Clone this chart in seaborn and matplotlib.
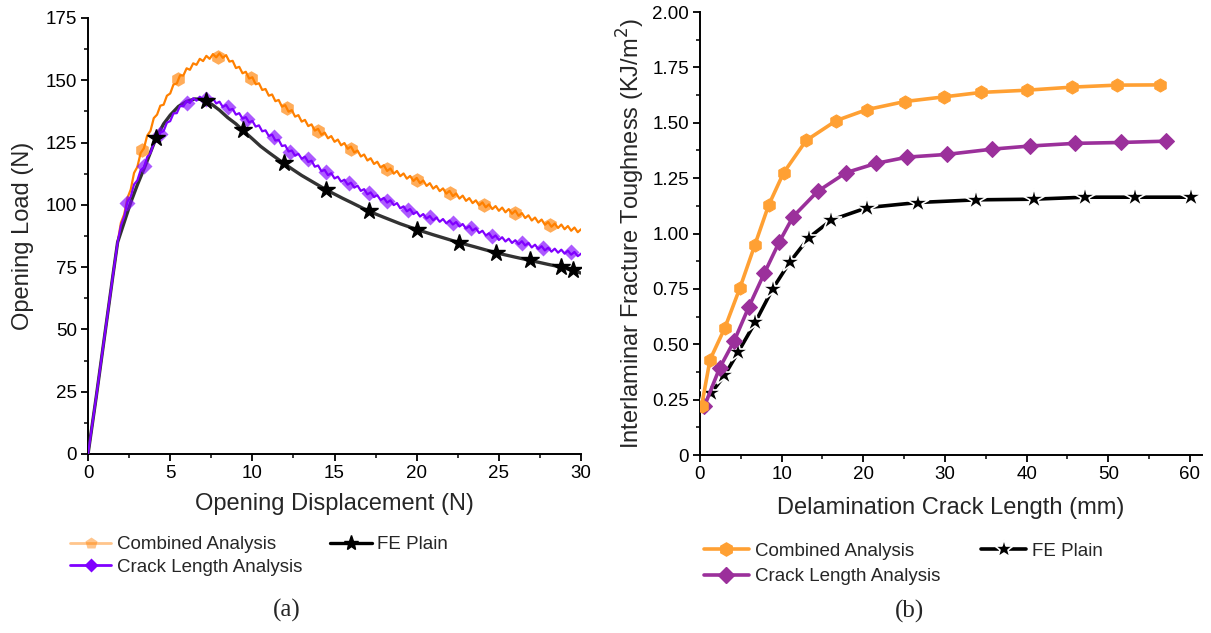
import numpy as np
import pandas as pd
import matplotlib
matplotlib.use("Agg")
import matplotlib.pyplot as plt
from matplotlib.lines import Line2D
from matplotlib.ticker import MultipleLocator
import seaborn as sns

# ---------------- (a) load-displacement data ----------------
# common linear loading branch
ramp_x = [0.0, 0.5, 1.0, 1.5, 1.8]
ramp_y = [0.0, 23.0, 47.0, 71.0, 85.0]

# Combined Analysis: sampled every 0.2 from 2.0 to 30.0
comb_x = [round(2.0 + 0.2 * i, 1) for i in range(141)]
comb_y = [
    92.8, 96.2, 102.8, 106.2, 112.8, 115.2, 120.8, 122.7, 127.8, 129.7,
    134.8, 136.2, 139.8, 140.2, 143.8, 144.7, 148.3, 148.7, 152.0, 151.9,
    154.8, 154.2, 156.8, 156.2, 158.6, 157.7, 159.8, 158.6, 160.5, 159.2,
    160.8, 159.0, 160.1, 157.5, 157.8, 154.9, 155.4, 152.8, 153.4, 150.7,
    151.2, 148.4, 148.8, 146.1, 146.5, 143.8, 144.3, 141.6, 142.1, 139.4,
    140.0, 137.4, 138.0, 135.4, 136.0, 133.4, 134.1, 131.6, 132.3, 129.8,
    130.5, 128.1, 129.0, 126.7, 127.6, 125.3, 126.2, 123.9, 124.8, 122.5,
    123.4, 121.0, 121.8, 119.4, 120.2, 117.8, 118.7, 116.4, 117.3, 115.0,
    115.9, 113.6, 114.6, 112.5, 113.6, 111.5, 112.6, 110.5, 111.6, 109.6,
    110.8, 108.7, 109.8, 107.6, 108.7, 106.5, 107.6, 105.5, 106.6, 104.5,
    105.6, 103.5, 104.6, 102.5, 103.7, 101.6, 102.7, 100.7, 101.8, 99.8,
    101.0, 99.0, 100.2, 98.3, 99.5, 97.6, 98.9, 97.0, 98.3, 96.4,
    97.7, 95.6, 96.7, 94.7, 95.8, 93.7, 94.9, 92.9, 94.1, 92.0,
    93.1, 91.2, 92.5, 90.7, 92.1, 90.2, 91.5, 89.6, 90.9, 89.0,
    90.2,
]
comb_mx = [3.3, 5.5, 7.9, 9.9, 12.1, 14.0, 16.0, 18.2, 20.0, 22.0, 24.1, 26.0, 28.1]
comb_my = [122.2, 150.7, 159.5, 150.9, 138.7, 129.7, 122.6, 114.4, 110.0, 104.8, 100.0, 96.9, 92.1]

# Crack Length Analysis: sampled every 0.2 from 2.0 to 30.0
crack_x = [round(2.0 + 0.2 * i, 1) for i in range(141)]
crack_y = [
    91.7, 95.3, 101.3, 103.3, 108.2, 109.8, 113.9, 115.0, 119.2, 120.8,
    124.7, 125.6, 129.0, 129.6, 133.0, 133.6, 136.7, 136.8, 139.7, 139.5,
    141.7, 140.9, 142.8, 141.8, 143.4, 142.1, 143.4, 141.7, 142.7, 140.7,
    141.4, 139.3, 140.1, 138.1, 138.5, 136.2, 136.8, 134.6, 135.2, 133.1,
    133.7, 131.4, 131.9, 129.5, 129.9, 127.6, 128.2, 125.8, 126.1, 123.6,
    123.9, 121.4, 121.8, 119.7, 120.5, 118.5, 119.3, 117.2, 117.7, 115.3,
    115.8, 113.5, 114.0, 111.9, 112.7, 110.6, 111.3, 109.3, 110.1, 108.1,
    108.9, 106.9, 107.7, 105.6, 106.3, 104.2, 105.0, 103.1, 103.9, 101.9,
    102.8, 100.9, 101.8, 99.9, 100.7, 98.6, 99.4, 97.4, 98.3, 96.3,
    97.2, 95.3, 96.3, 94.5, 95.5, 93.8, 94.9, 93.2, 94.3, 92.6,
    93.7, 92.1, 93.1, 91.3, 92.3, 90.5, 91.5, 89.7, 90.6, 88.7,
    89.6, 87.7, 88.6, 86.7, 87.7, 85.9, 87.0, 85.3, 86.4, 84.7,
    85.8, 84.2, 85.4, 83.7, 84.7, 82.9, 84.0, 82.3, 83.4, 81.7,
    82.8, 81.2, 82.4, 80.8, 82.0, 80.4, 81.6, 80.0, 81.1, 79.4,
    80.4,
]
crack_mx = [2.4, 3.4, 4.4, 6.0, 7.2, 8.5, 9.7, 11.3, 12.3, 13.4, 14.5, 15.9, 17.1,
            18.2, 19.5, 20.8, 22.2, 23.3, 24.6, 26.4, 27.7, 29.4]
crack_my = [100.6, 115.7, 128.3, 141.0, 142.6, 139.3, 134.3, 127.3, 121.4, 118.3, 113.0,
            108.6, 104.6, 101.7, 98.0, 95.0, 92.9, 90.6, 87.4, 84.8, 82.8, 81.0]

# FE Plain
fe_x = [2.2, 2.6, 3.0, 3.5, 4.15, 4.6, 5.0, 5.5, 6.0, 6.5, 7.0, 7.2, 7.6, 8.0, 8.5,
        9.0, 9.4, 10.0, 10.5, 11.0, 11.9, 12.5, 13.0, 14.5, 15.5, 16.0, 17.1, 18.0,
        19.0, 20.0, 21.0, 22.0, 22.6, 23.5, 24.8, 26.0, 26.9, 28.0, 28.8, 29.5, 30.0]
fe_y = [93.0, 101.0, 108.0, 116.0, 127.0, 132.5, 136.0, 139.5, 141.5, 142.5, 142.3,
        141.7, 140.0, 138.0, 135.0, 132.5, 130.0, 126.5, 123.5, 121.0, 116.7, 114.0,
        111.8, 106.0, 102.6, 101.0, 97.4, 95.0, 92.4, 90.1, 88.0, 86.0, 84.8, 83.2,
        80.8, 79.0, 77.7, 76.1, 75.0, 73.7, 72.6]
fe_mx = [4.15, 7.2, 9.4, 11.9, 14.5, 17.1, 20.0, 22.6, 24.8, 26.9, 28.8, 29.5]
fe_my = [127.0, 141.7, 130.0, 116.7, 106.0, 97.4, 90.1, 84.8, 80.8, 77.7, 75.0, 73.7]

# ---------------- (b) fracture toughness data ----------------
b_comb_x = [0.2, 1.23, 3.06, 4.9, 6.7, 8.4, 10.24, 13.0, 16.7, 20.4, 25.1, 29.9, 34.4,
            40.0, 45.6, 51.1, 56.3]
b_comb_y = [0.221, 0.43, 0.575, 0.755, 0.946, 1.127, 1.274, 1.42, 1.51, 1.559, 1.596,
            1.617, 1.637, 1.647, 1.661, 1.67, 1.671]
b_crack_x = [0.55, 2.4, 4.2, 6.0, 7.9, 9.7, 11.4, 14.4, 17.9, 21.6, 25.4, 30.2, 35.8,
             40.4, 45.9, 51.5, 57.1]
b_crack_y = [0.221, 0.392, 0.516, 0.67, 0.822, 0.961, 1.076, 1.19, 1.275, 1.317, 1.345,
             1.357, 1.381, 1.395, 1.407, 1.411, 1.417]
b_fe_x = [0.2, 1.37, 3.0, 4.7, 6.8, 8.9, 11.0, 13.35, 16.1, 20.5, 26.7, 33.8, 40.9,
          47.1, 53.3, 60.1]
b_fe_y = [0.22, 0.28, 0.359, 0.466, 0.601, 0.75, 0.871, 0.982, 1.061, 1.117, 1.14,
          1.152, 1.155, 1.164, 1.164, 1.164]

labels = ["Combined Analysis", "Crack Length Analysis", "FE Plain"]

sns.set_theme(style="ticks")
plt.rcParams["font.family"] = ["Liberation Sans", "DejaVu Sans"]
plt.rcParams["axes.linewidth"] = 1.4
for ax_name in ("xtick", "ytick"):
    plt.rcParams[f"{ax_name}.major.width"] = 1.3
    plt.rcParams[f"{ax_name}.minor.width"] = 1.1
    plt.rcParams[f"{ax_name}.major.size"] = 5
    plt.rcParams[f"{ax_name}.minor.size"] = 3
    plt.rcParams[f"{ax_name}.direction"] = "out"
    plt.rcParams[f"{ax_name}.color"] = "black"
    plt.rcParams[f"{ax_name}.labelcolor"] = "black"

fig = plt.figure(figsize=(12.11, 6.33), dpi=100)
ax1 = fig.add_axes([0.0727, 0.2828, 0.4071, 0.6888])
ax2 = fig.add_axes([0.578, 0.2812, 0.4147, 0.6998])

C_OR_A = "#FF8000"
C_PU_A = "#8000FF"
C_FE_A = "#333333"

df_comb = pd.DataFrame({"x": ramp_x + comb_x, "y": ramp_y + comb_y})
df_crack = pd.DataFrame({"x": ramp_x + crack_x, "y": ramp_y + crack_y})
df_fe = pd.DataFrame({"x": ramp_x + fe_x, "y": ramp_y + fe_y})

sns.lineplot(data=df_fe, x="x", y="y", ax=ax1, color=C_FE_A, lw=2.4, sort=False,
             estimator=None, zorder=3)
sns.lineplot(data=df_comb, x="x", y="y", ax=ax1, color=C_OR_A, lw=1.6, sort=False,
             estimator=None, zorder=2)
sns.lineplot(data=df_crack, x="x", y="y", ax=ax1, color=C_PU_A, lw=1.6, sort=False,
             estimator=None, zorder=4)
ax1.plot(comb_mx, comb_my, ls="none", marker="h", ms=10.5, color=C_OR_A, alpha=0.65,
         mec="none", zorder=5)
ax1.plot(crack_mx, crack_my, ls="none", marker="D", ms=8.5, color=C_PU_A, alpha=0.65,
         mec="none", zorder=5)
ax1.plot(fe_mx, fe_my, ls="none", marker="*", ms=13, color="black", mec="black",
         zorder=6)

ax1.set_xlim(0, 30)
ax1.set_ylim(0, 175)
ax1.xaxis.set_major_locator(MultipleLocator(5))
ax1.xaxis.set_minor_locator(MultipleLocator(2.5))
ax1.yaxis.set_major_locator(MultipleLocator(25))
ax1.yaxis.set_minor_locator(MultipleLocator(12.5))
ax1.set_xlabel("Opening Displacement (N)", fontsize=17, labelpad=8)
ax1.set_ylabel("Opening Load (N)", fontsize=17, labelpad=8)

# ---------------- (b) ----------------
C_OR_B = "#FFA033"
C_PU_B = "#9B309B"

sns.lineplot(x=b_fe_x, y=b_fe_y, ax=ax2, color="black", lw=2.6, sort=False,
             estimator=None, marker="*", markersize=16, mec="white", mew=1.2, zorder=3)
sns.lineplot(x=b_crack_x, y=b_crack_y, ax=ax2, color=C_PU_B, lw=2.6, sort=False,
             estimator=None, marker="D", markersize=8.5, mec=C_PU_B, zorder=4)
sns.lineplot(x=b_comb_x, y=b_comb_y, ax=ax2, color=C_OR_B, lw=2.6, sort=False,
             estimator=None, marker="h", markersize=9.5, mec=C_OR_B, zorder=5)

ax2.set_xlim(0, 61.5)
ax2.set_ylim(0, 2.0)
ax2.xaxis.set_major_locator(MultipleLocator(10))
ax2.xaxis.set_minor_locator(MultipleLocator(5))
ax2.yaxis.set_minor_locator(MultipleLocator(0.125))
ax2.set_yticks([0, 0.25, 0.5, 0.75, 1.0, 1.25, 1.5, 1.75, 2.0])
ax2.set_yticklabels(["0", "0.25", "0.50", "0.75", "1.00", "1.25", "1.50", "1.75", "2.00"])
ax2.set_xlabel("Delamination Crack Length (mm)", fontsize=17, labelpad=10)
ax2.set_ylabel("Interlaminar Fracture Toughness (KJ/m$^2$)", fontsize=17, labelpad=4)

for ax in (ax1, ax2):
    sns.despine(ax=ax)
    ax.tick_params(axis="both", which="major", labelsize=13.5, pad=3)
    ax.spines["left"].set_color("black")
    ax.spines["bottom"].set_color("black")

# legends
h_a = [
    Line2D([], [], color=C_OR_A, alpha=0.45, lw=2, marker="p", ms=9, mec="none"),
    Line2D([], [], color=C_PU_A, lw=2, marker="D", ms=7, mec="none"),
    Line2D([], [], color="black", lw=2.4, marker="*", ms=11),
]
fig.legend(h_a, labels, ncol=2, loc="upper left", bbox_to_anchor=(0.0578, 0.153),
           frameon=False, fontsize=13.5, handlelength=2.2, handletextpad=0.3,
           columnspacing=1.5, labelspacing=0.3, borderpad=0, borderaxespad=0)

h_b = [
    Line2D([], [], color=C_OR_B, lw=2.6, marker="h", ms=9.5),
    Line2D([], [], color=C_PU_B, lw=2.6, marker="D", ms=8),
    Line2D([], [], color="black", lw=2.6, marker="*", ms=14, mec="white", mew=1.2),
]
fig.legend(h_b, labels, ncol=2, loc="upper left", bbox_to_anchor=(0.5813, 0.143),
           frameon=False, fontsize=13.5, handlelength=2.4, handletextpad=0.3,
           columnspacing=2.2, labelspacing=0.45, borderpad=0, borderaxespad=0)

fig.text(287 / 1211, 1 - 610 / 633, "(a)", fontsize=18, ha="center", va="center",
         family=["Liberation Serif", "DejaVu Serif"])
fig.text(910 / 1211, 1 - 611 / 633, "(b)", fontsize=18, ha="center", va="center",
         family=["Liberation Serif", "DejaVu Serif"])

fig.savefig("out.png", dpi=100, facecolor="white")
